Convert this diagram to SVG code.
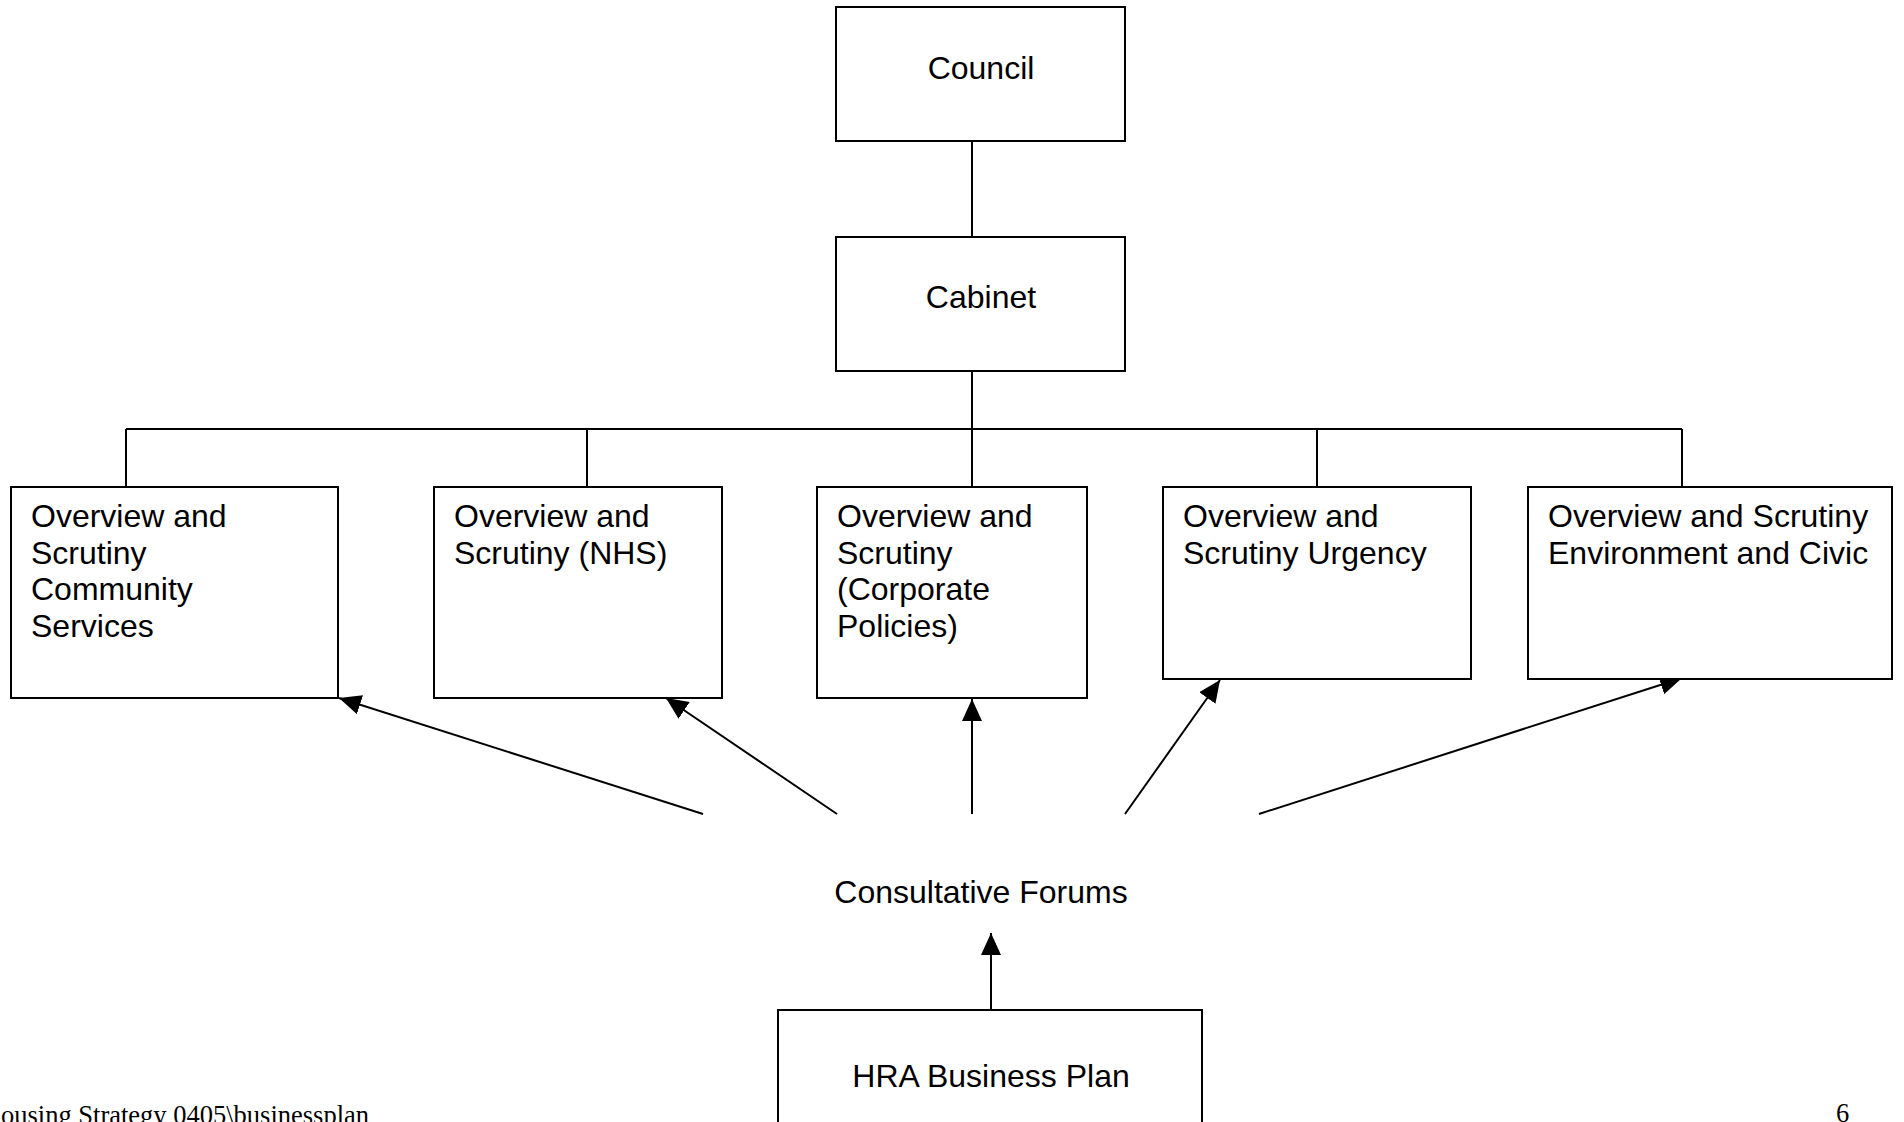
<svg xmlns="http://www.w3.org/2000/svg" width="1904" height="1122" viewBox="0 0 1904 1122">
  <style>
    .box { fill: #ffffff; stroke: #000000; stroke-width: 2; }
    .lbl { font-family: "Liberation Sans", Arial, sans-serif; font-size: 32px; fill: #000000; }
    .mid { text-anchor: middle; }
    .link { fill: none; stroke: #000000; stroke-width: 2; }
    .foot { font-family: "Liberation Serif", "Times New Roman", serif; font-size: 26.5px; fill: #000000; }
  </style>
  <defs>
    <marker id="head" markerUnits="userSpaceOnUse" markerWidth="22" markerHeight="20" refX="22" refY="10" orient="auto">
      <path d="M0,0 L22,10 L0,20 Z" fill="#000000"/>
    </marker>
  </defs>

  <rect x="0" y="0" width="1904" height="1122" fill="#ffffff"/>

  <!-- connectors -->
  <g id="connectors">
    <line class="link" x1="972" y1="141" x2="972" y2="237"/>
    <line class="link" x1="972" y1="371" x2="972" y2="429"/>
    <line class="link" x1="126" y1="429" x2="1682" y2="429"/>
    <line class="link" x1="126" y1="429" x2="126" y2="487"/>
    <line class="link" x1="587" y1="429" x2="587" y2="487"/>
    <line class="link" x1="972" y1="429" x2="972" y2="487"/>
    <line class="link" x1="1317" y1="429" x2="1317" y2="487"/>
    <line class="link" x1="1682" y1="429" x2="1682" y2="487"/>

    <line class="link" x1="703" y1="814" x2="339" y2="698" marker-end="url(#head)"/>
    <line class="link" x1="837" y1="814" x2="666" y2="698" marker-end="url(#head)"/>
    <line class="link" x1="972" y1="814" x2="972" y2="699" marker-end="url(#head)"/>
    <line class="link" x1="1125" y1="814" x2="1220" y2="680" marker-end="url(#head)"/>
    <line class="link" x1="1259" y1="814" x2="1682" y2="678" marker-end="url(#head)"/>

    <line class="link" x1="991" y1="1010" x2="991" y2="933" marker-end="url(#head)"/>
  </g>

  <!-- nodes -->
  <g id="council">
    <rect class="box" x="836" y="7" width="289" height="134"/>
    <text class="lbl mid" x="981" y="79">Council</text>
  </g>

  <g id="cabinet">
    <rect class="box" x="836" y="237" width="289" height="134"/>
    <text class="lbl mid" x="981" y="308">Cabinet</text>
  </g>

  <g id="os-community">
    <rect class="box" x="11" y="487" width="327" height="211"/>
    <text class="lbl" x="31" y="527">Overview and</text>
    <text class="lbl" x="31" y="564">Scrutiny</text>
    <text class="lbl" x="31" y="600">Community</text>
    <text class="lbl" x="31" y="637">Services</text>
  </g>

  <g id="os-nhs">
    <rect class="box" x="434" y="487" width="288" height="211"/>
    <text class="lbl" x="454" y="527">Overview and</text>
    <text class="lbl" x="454" y="564">Scrutiny (NHS)</text>
  </g>

  <g id="os-corporate">
    <rect class="box" x="817" y="487" width="270" height="211"/>
    <text class="lbl" x="837" y="527">Overview and</text>
    <text class="lbl" x="837" y="564">Scrutiny</text>
    <text class="lbl" x="837" y="600">(Corporate</text>
    <text class="lbl" x="837" y="637">Policies)</text>
  </g>

  <g id="os-urgency">
    <rect class="box" x="1163" y="487" width="308" height="192"/>
    <text class="lbl" x="1183" y="527">Overview and</text>
    <text class="lbl" x="1183" y="564">Scrutiny Urgency</text>
  </g>

  <g id="os-environment">
    <rect class="box" x="1528" y="487" width="364" height="192"/>
    <text class="lbl" x="1548" y="527">Overview and Scrutiny</text>
    <text class="lbl" x="1548" y="564">Environment and Civic</text>
  </g>

  <g id="consultative-forums">
    <text class="lbl mid" x="981" y="903">Consultative Forums</text>
  </g>

  <g id="hra-business-plan">
    <rect class="box" x="778" y="1010" width="424" height="200"/>
    <text class="lbl mid" x="991" y="1087">HRA Business Plan</text>
  </g>

  <!-- page footer -->
  <text class="foot" x="1" y="1124">ousing Strategy 0405\businessplan</text>
  <text class="foot" x="1836" y="1122">6</text>
</svg>
